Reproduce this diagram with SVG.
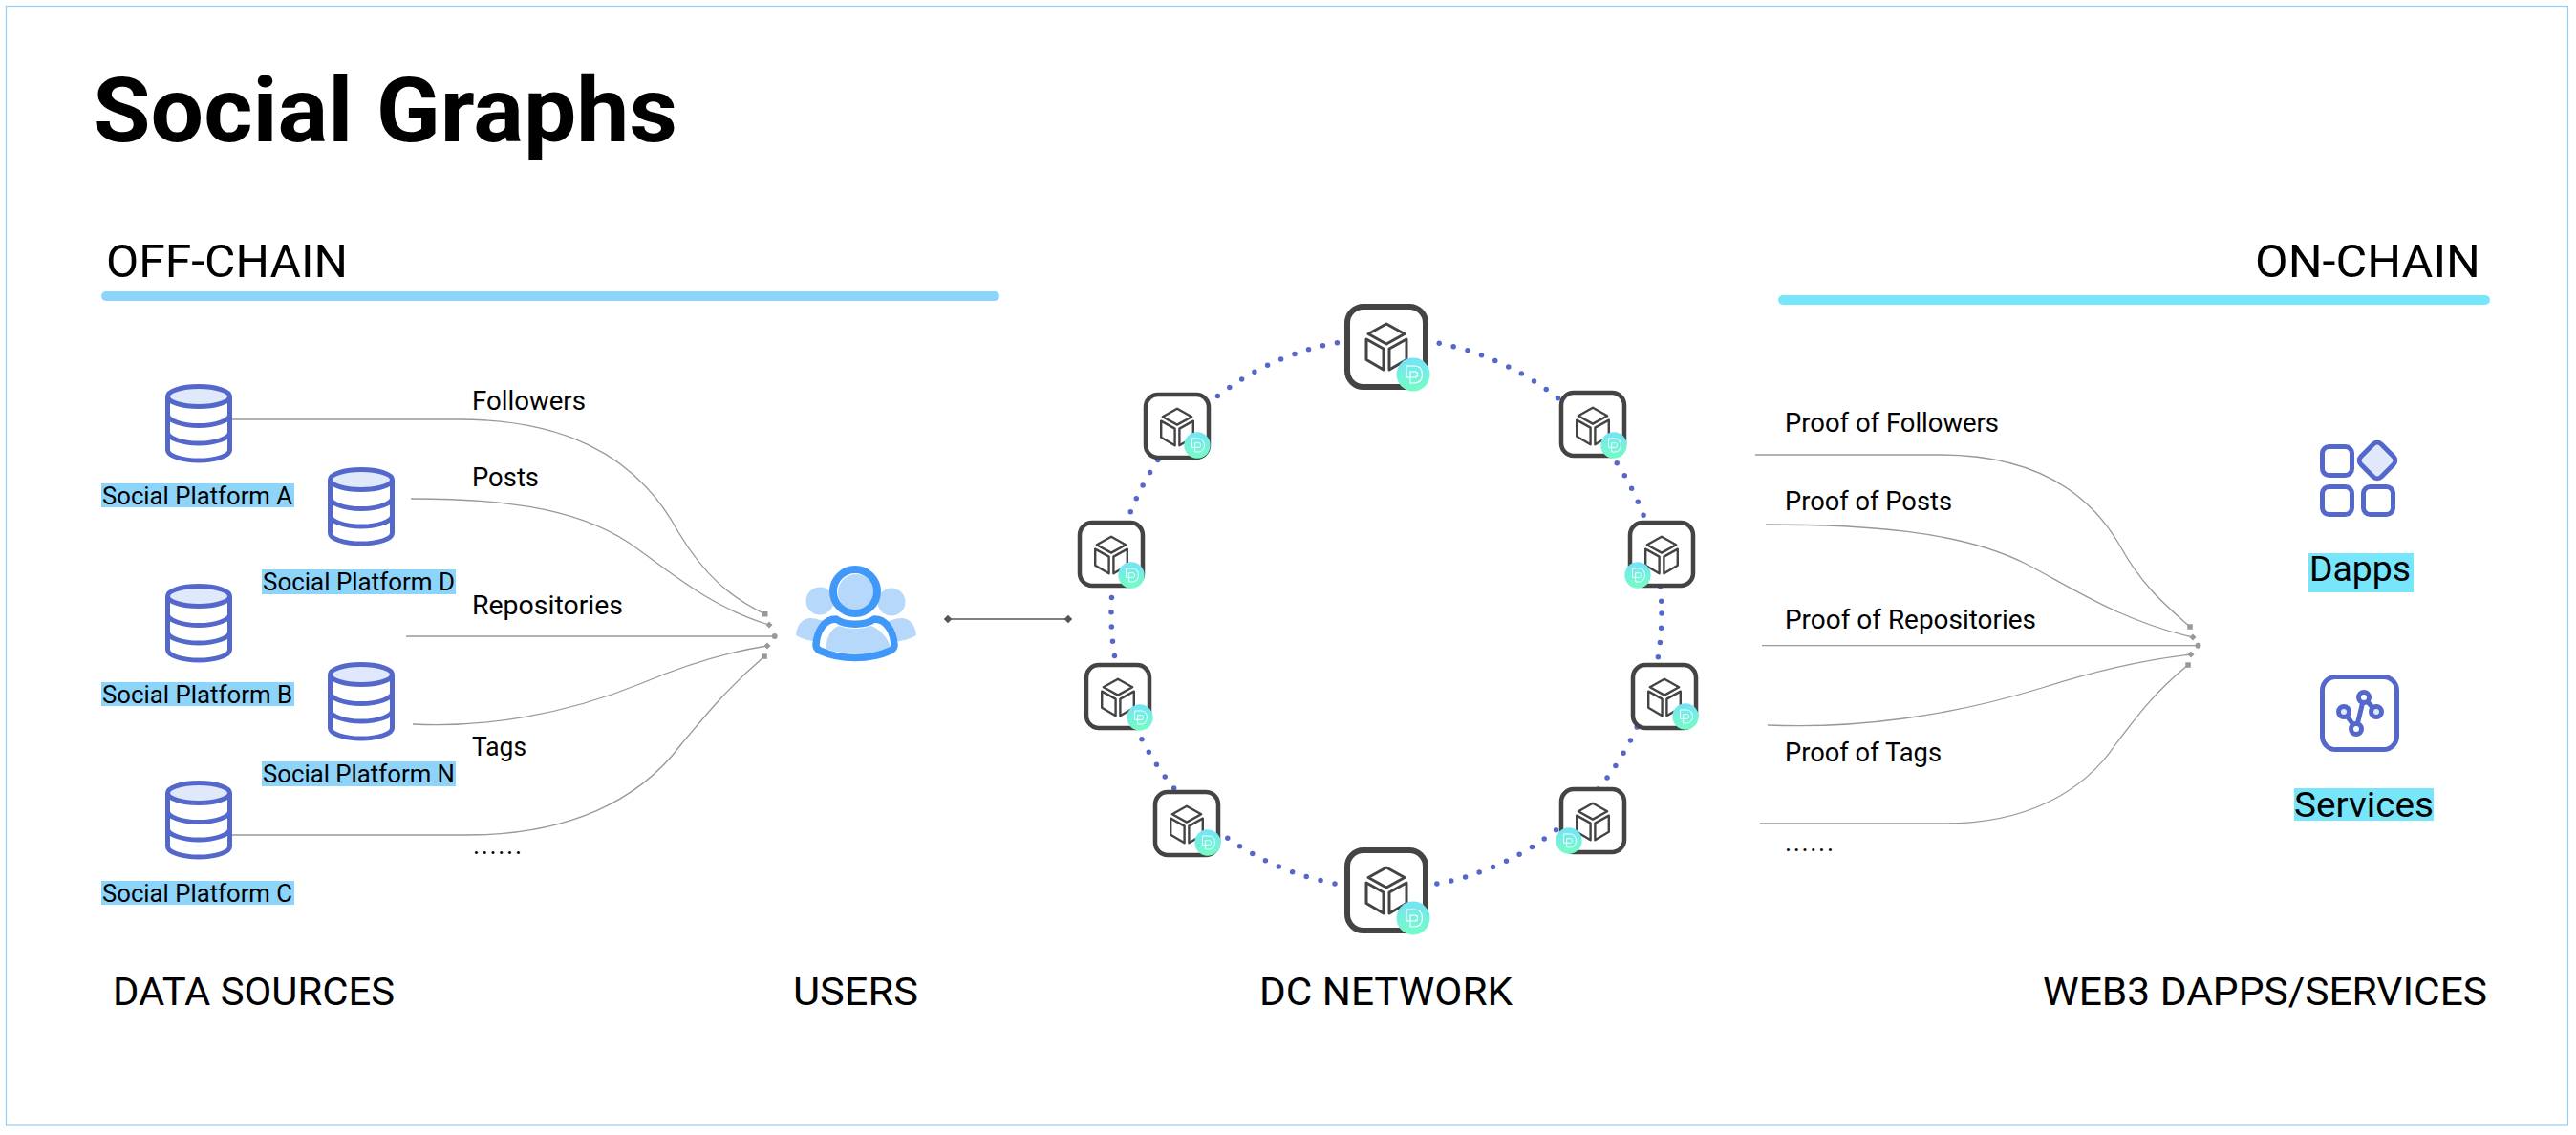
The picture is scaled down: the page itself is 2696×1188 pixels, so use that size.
<svg xmlns="http://www.w3.org/2000/svg" width="2696" height="1188" viewBox="0 0 2696 1188">
<style>
text{font-family:"Roboto","Liberation Sans",sans-serif;fill:#000}
.title{font-size:95px;font-weight:700}
.head{font-size:48px}
.foot{font-size:41px}
.lab{font-size:26px}
.edge{font-size:27px}
.big{font-size:37px}
.db{fill:none;stroke:#5468cc;stroke-width:5}
.dbtop{fill:#e0e9fb;stroke:#5468cc;stroke-width:5}
.con{fill:none;stroke:#999;stroke-width:1.3}
.end{fill:#999}
.box{fill:#fff;stroke:#444;stroke-linejoin:round}
.cube{fill:none;stroke:#444;stroke-linejoin:round}
.d{fill:none;stroke:#fff;stroke-width:1.2}
.ic{stroke:#5468cc;stroke-width:5;fill:none}
.hl{fill:#8dd4fb}
.hl2{fill:#77e5fa}
</style>
<defs>
<linearGradient id="badge" x1="0" y1="0" x2="0" y2="1"><stop offset="0" stop-color="#74e3f8"/><stop offset="1" stop-color="#74fdc4"/></linearGradient>
<g id="database">
<path class="db" d="M2.500 13V69C2.500 75 17 80 35 80S67.500 75 67.500 69V13"/>
<path class="db" d="M2.500 32C2.500 38 17 43.500 35 43.500S67.500 38 67.500 32M2.500 50.500C2.500 56.500 17 62 35 62S67.500 56.500 67.500 50.500"/>
<ellipse class="dbtop" cx="35" cy="13" rx="32.500" ry="10.500"/>
</g>
<g id="cube">
<path d="M0-24L19-13.500 0-3-19-13.500Z"/>
<path d="M-21-8L-3 2V24L-21 13.500Z"/>
<path d="M21-8L3 2V24L21 13.500Z"/>
</g>
<g id="dmark">
<circle r="1" fill="url(#badge)" transform="scale(17.500)"/>
<path class="d" d="M-7-9H1C7-9 9.500-5 9.500 0S7 9 1 9H-3V-3H2C4-3 4.500-1.500 4.500 0S4 3 2 3H-7Z"/>
</g>
</defs>

<rect x="6.500" y="6.500" width="2681" height="1171.500" fill="#fff" stroke="#8ed0f9" stroke-width="1.200"/>

<text class="title" x="97" y="148" textLength="612" lengthAdjust="spacingAndGlyphs">Social Graphs</text>
<text class="head" x="111" y="290" textLength="253" lengthAdjust="spacingAndGlyphs">OFF-CHAIN</text>
<rect x="106" y="305" width="940" height="10" rx="5" class="hl"/>
<text class="head" x="2360" y="290" textLength="236" lengthAdjust="spacingAndGlyphs">ON-CHAIN</text>
<rect x="1861" y="309" width="745" height="10" rx="5" class="hl2"/>

<g id="connectors">
<path class="con" d="M243 439H480C584 439 664 472 710 557C737 602 764 625 801 643"/>
<path class="con" d="M430 522C516 522 599 529 658 568C700 597 742 635 805 654"/>
<path class="con" d="M425 666H810"/>
<path class="con" d="M432 758C507 762 591 748 672 715C717 696 758 683 803 676"/>
<path class="con" d="M243 874H489C595 874 669 838 713 779C744 742 763 719 800 687"/>
<rect class="end" x="798" y="640" width="5.500" height="5.500"/>
<rect class="end" x="802.500" y="651.500" width="5" height="5" transform="rotate(45 805 654)"/>
<circle class="end" cx="810.700" cy="666" r="3"/>
<rect class="end" x="800.500" y="673.500" width="5" height="5" transform="rotate(45 803 676)"/>
<rect class="end" x="797.300" y="684.300" width="5.500" height="5.500"/>

<path d="M992 648H1118" fill="none" stroke="#555" stroke-width="1.500"/>
<rect x="989" y="645" width="6" height="6" fill="#555" transform="rotate(45 992 648)"/>
<rect x="1115" y="645" width="6" height="6" fill="#555" transform="rotate(45 1118 648)"/>

<path class="con" d="M1837 476H2030C2115 476 2180 505 2218 570C2240 610 2262 630 2292 656"/>
<path class="con" d="M1848 549C1950 549 2050 555 2120 590C2170 616 2220 650 2295 667"/>
<path class="con" d="M1844 675.700H2300"/>
<path class="con" d="M1850 759C1940 763 2040 750 2137 720C2190 703 2240 691 2293 685"/>
<path class="con" d="M1842 862H2035C2120 862 2180 830 2215 778C2240 745 2255 725 2290 696"/>
<rect class="end" x="2289.300" y="653.300" width="5.500" height="5.500"/>
<rect class="end" x="2292.500" y="664.500" width="5" height="5" transform="rotate(45 2295 667)"/>
<circle class="end" cx="2300.500" cy="675.700" r="3"/>
<rect class="end" x="2290.500" y="682.500" width="5" height="5" transform="rotate(45 2293 685)"/>
<rect class="end" x="2287.300" y="693.300" width="5.500" height="5.500"/>

<circle cx="1451" cy="642" r="288" fill="none" stroke="#5468cc" stroke-width="5.500" stroke-linecap="round" stroke-dasharray="0 15.350"/>
</g>

<g id="platform-a"><use href="#database" x="173" y="402"/><rect x="106" y="506" width="202" height="25" class="hl"/><text class="lab" x="107" y="528" textLength="199" lengthAdjust="spacingAndGlyphs">Social Platform A</text></g>
<g id="platform-d"><use href="#database" x="343" y="489"/><rect x="274" y="596" width="203" height="26" class="hl"/><text class="lab" x="275" y="618" textLength="201" lengthAdjust="spacingAndGlyphs">Social Platform D</text></g>
<g id="platform-b"><use href="#database" x="173" y="611"/><rect x="106" y="714" width="202" height="25" class="hl"/><text class="lab" x="107" y="736" textLength="199" lengthAdjust="spacingAndGlyphs">Social Platform B</text></g>
<g id="platform-n"><use href="#database" x="343" y="693"/><rect x="274" y="797" width="203" height="26" class="hl"/><text class="lab" x="275" y="819" textLength="201" lengthAdjust="spacingAndGlyphs">Social Platform N</text></g>
<g id="platform-c"><use href="#database" x="173" y="817"/><rect x="106" y="922" width="202" height="25" class="hl"/><text class="lab" x="107" y="944" textLength="199" lengthAdjust="spacingAndGlyphs">Social Platform C</text></g>

<g id="edge-labels">
<text class="edge" x="494" y="429" textLength="119" lengthAdjust="spacingAndGlyphs">Followers</text>
<text class="edge" x="494" y="509" textLength="70" lengthAdjust="spacingAndGlyphs">Posts</text>
<text class="edge" x="494" y="643" textLength="158" lengthAdjust="spacingAndGlyphs">Repositories</text>
<text class="edge" x="494" y="791" textLength="57" lengthAdjust="spacingAndGlyphs">Tags</text>
<text class="edge" x="495" y="894" textLength="51" lengthAdjust="spacing">......</text>
<text class="edge" x="1868" y="452" textLength="224" lengthAdjust="spacingAndGlyphs">Proof of Followers</text>
<text class="edge" x="1868" y="534" textLength="175" lengthAdjust="spacingAndGlyphs">Proof of Posts</text>
<text class="edge" x="1868" y="658" textLength="263" lengthAdjust="spacingAndGlyphs">Proof of Repositories</text>
<text class="edge" x="1868" y="797" textLength="164" lengthAdjust="spacingAndGlyphs">Proof of Tags</text>
<text class="edge" x="1868" y="891" textLength="51" lengthAdjust="spacing">......</text>
</g>

<g id="users">
<g fill="#b5d8fb">
<circle cx="858" cy="629" r="14.500"/><circle cx="933" cy="630" r="14.500"/>
<path d="M833 665C834 652 842 647 848 647C855 647 860 650 866 651L856 672C848 671 840 669 833 665Z"/>
<path d="M959 665C958 652 950 647 944 647C937 647 932 650 926 651L936 672C944 671 952 669 959 665Z"/>
<circle cx="896" cy="620" r="19"/>
<path d="M864 679C866 664 870 658 878 655C888 659 902 659 912 655C920 658 930 668 932 678C912 686 884 686 864 679Z"/>
</g>
<circle cx="895" cy="619" r="23" fill="none" stroke="#4099f8" stroke-width="8"/>
<path d="M854 675C855 660 863 648 875 648C885 655 905 655 915 648C927 648 935 660 936 675C936 678 934 680 932 681C910 691 880 691 858 681C856 680 854 678 854 675Z" fill="none" stroke="#4099f8" stroke-width="7.500" stroke-linejoin="round"/>
</g>

<g id="node-top"><rect class="box" x="1410" y="321" width="82" height="84" rx="17" stroke-width="6"/><use href="#cube" x="1451" y="363" class="cube" stroke-width="3"/><use href="#dmark" x="1479" y="392"/></g>
<g id="node-bottom"><rect class="box" x="1410" y="890" width="82" height="84" rx="17" stroke-width="6"/><use href="#cube" x="1451" y="932" class="cube" stroke-width="3"/><use href="#dmark" x="1479" y="961"/></g>
<g id="node-tl"><rect class="box" x="1199" y="413" width="66" height="66" rx="13" stroke-width="4.500"/><use href="#cube" transform="translate(1232 447) scale(.8)" class="cube" stroke-width="3"/><use href="#dmark" transform="translate(1253 466) scale(.78)"/></g>
<g id="node-l1"><rect class="box" x="1130" y="547" width="66" height="66" rx="13" stroke-width="4.500"/><use href="#cube" transform="translate(1163 581) scale(.8)" class="cube" stroke-width="3"/><use href="#dmark" transform="translate(1184 602) scale(.78)"/></g>
<g id="node-l2"><rect class="box" x="1137" y="696" width="66" height="66" rx="13" stroke-width="4.500"/><use href="#cube" transform="translate(1170 730) scale(.8)" class="cube" stroke-width="3"/><use href="#dmark" transform="translate(1193 751) scale(.78)"/></g>
<g id="node-bl"><rect class="box" x="1209" y="829" width="66" height="66" rx="13" stroke-width="4.500"/><use href="#cube" transform="translate(1242 863) scale(.8)" class="cube" stroke-width="3"/><use href="#dmark" transform="translate(1264 882) scale(.78)"/></g>
<g id="node-tr"><rect class="box" x="1634" y="411" width="66" height="66" rx="13" stroke-width="4.500"/><use href="#cube" transform="translate(1667 446) scale(.8)" class="cube" stroke-width="3"/><use href="#dmark" transform="translate(1689 466) scale(.78)"/></g>
<g id="node-r1"><rect class="box" x="1706" y="547" width="66" height="66" rx="13" stroke-width="4.500"/><use href="#cube" transform="translate(1739 581) scale(.8)" class="cube" stroke-width="3"/><use href="#dmark" transform="translate(1714 602) scale(.78)"/></g>
<g id="node-r2"><rect class="box" x="1709" y="696" width="66" height="66" rx="13" stroke-width="4.500"/><use href="#cube" transform="translate(1742 730) scale(.8)" class="cube" stroke-width="3"/><use href="#dmark" transform="translate(1764 750) scale(.78)"/></g>
<g id="node-br"><rect class="box" x="1634" y="826" width="66" height="66" rx="13" stroke-width="4.500"/><use href="#cube" transform="translate(1667 860) scale(.8)" class="cube" stroke-width="3"/><use href="#dmark" transform="translate(1642 880) scale(.78)"/></g>

<g id="dapps">
<rect class="ic" x="2430.500" y="467.500" width="31" height="30" rx="7"/>
<rect class="ic" x="2430.500" y="509.500" width="31" height="29" rx="7"/>
<rect class="ic" x="2473.500" y="509.500" width="31" height="29" rx="7"/>
<rect class="ic" x="2473" y="467" width="30" height="30" rx="6" transform="rotate(45 2488 482)" style="fill:#e0e9fb"/>
<rect x="2416" y="579" width="110" height="41" class="hl2"/>
<text class="big" x="2417" y="608" textLength="106" lengthAdjust="spacingAndGlyphs">Dapps</text>
</g>
<g id="services">
<rect class="ic" x="2430.500" y="708.500" width="78" height="76" rx="14"/>
<path class="ic" d="M2453 745L2466 763L2474 730L2487 745"/>
<circle class="ic" cx="2453" cy="745" r="5.500" style="fill:#e0e9fb"/>
<circle class="ic" cx="2466" cy="763" r="5.500" style="fill:#fff"/>
<circle class="ic" cx="2474" cy="730" r="5.500" style="fill:#fff"/>
<circle class="ic" cx="2487" cy="745" r="5.500" style="fill:#e0e9fb"/>
<rect x="2401" y="825" width="146" height="34" class="hl2"/>
<text class="big" x="2401" y="855" textLength="146" lengthAdjust="spacingAndGlyphs">Services</text>
</g>

<g id="columns">
<text class="foot" x="118" y="1052" textLength="295" lengthAdjust="spacingAndGlyphs">DATA SOURCES</text>
<text class="foot" x="830" y="1052" textLength="131" lengthAdjust="spacingAndGlyphs">USERS</text>
<text class="foot" x="1318" y="1052" textLength="265" lengthAdjust="spacingAndGlyphs">DC NETWORK</text>
<text class="foot" x="2138" y="1052" textLength="465" lengthAdjust="spacingAndGlyphs">WEB3 DAPPS/SERVICES</text>
</g>
</svg>
